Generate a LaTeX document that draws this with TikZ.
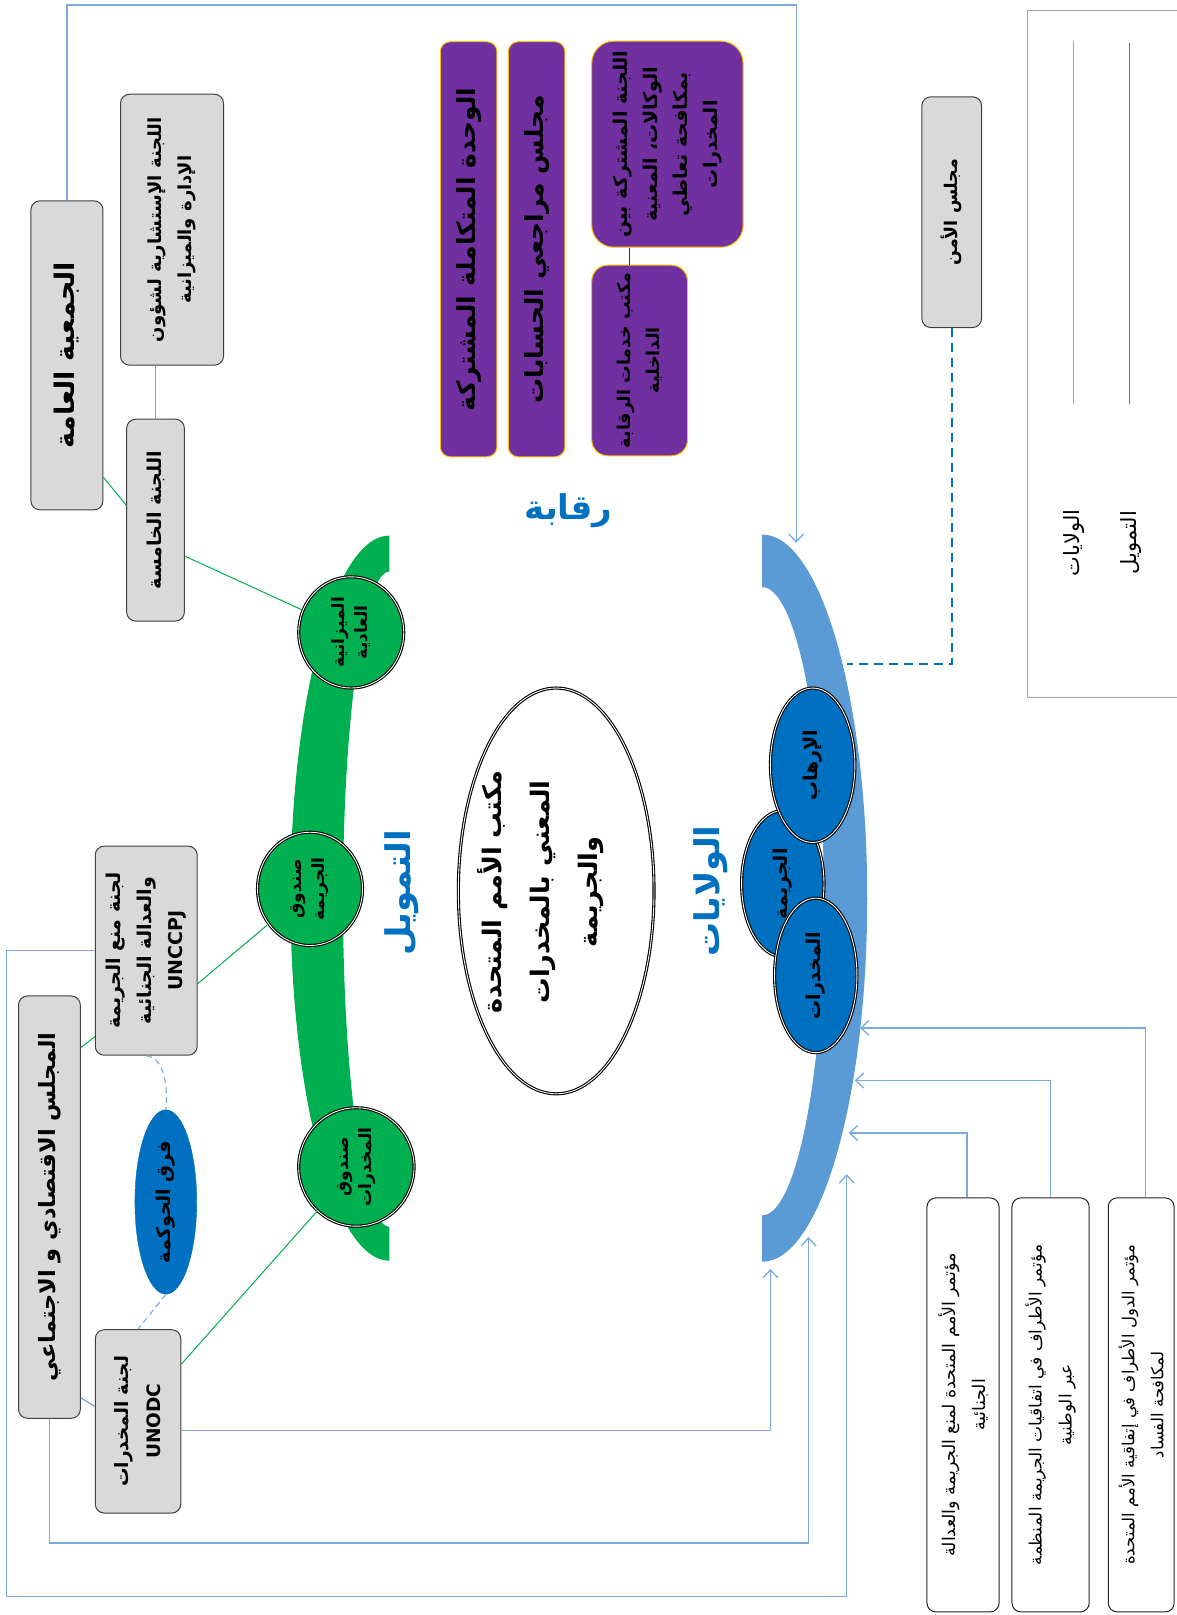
\documentclass[tikz,border=0pt]{standalone}
\usepackage{fontspec}
\usetikzlibrary{shapes.geometric,arrows.meta}
\newfontfamily\arabicfont[Script=Arabic]{DejaVu Sans}
\TeXXeTstate=1
\newcommand\arb[1]{\beginR #1\endR}
\newcommand\setfs[2]{\fontsize{#1}{#2}\selectfont}
\definecolor{lineblue}{RGB}{120,170,222}
\definecolor{arcblue}{RGB}{91,155,213}
\definecolor{cblue}{RGB}{0,112,192}
\definecolor{ggreen}{RGB}{0,176,80}
\definecolor{purp}{RGB}{112,48,160}
\definecolor{ambr}{RGB}{255,192,0}
\definecolor{boxgray}{RGB}{217,217,217}
\definecolor{legborder}{RGB}{165,165,165}
\def\u{1.0298pt}
\begin{document}
\begin{tikzpicture}[x=1.0298pt,y=-1.0298pt,
 box/.style={rotate=90, draw=black!75, line width=1pt, rounded corners=9pt, inner sep=0pt, align=center, font=\arabicfont\bfseries\setfs{18}{30}},
 gbox/.style={box, fill=boxgray},
 wbox/.style={box, fill=white, draw=black!85, font=\arabicfont\setfs{17}{30}},
 pbox/.style={rotate=90, draw=ambr, line width=1pt, fill=purp, rounded corners=10pt, inner sep=0pt, align=center, font=\arabicfont\bfseries\setfs{25}{30}},
 gcirc/.style={ellipse, rotate=90, draw=black, double=white, double distance=0.9pt, line width=1.1pt, fill=ggreen, inner sep=0pt, align=center, font=\arabicfont\bfseries\setfs{17}{23}},
 bcirc/.style={gcirc, fill=cblue, font=\arabicfont\bfseries\setfs{19}{22}},
 conn/.style={draw=lineblue, line width=1.3pt},
 arr/.style={conn, -{Straight Barb[length=8pt,width=15pt]}},
 gline/.style={draw=ggreen, line width=1pt},
 lbl/.style={rotate=90, text=cblue, font=\arabicfont\bfseries\setfs{34}{38}}
]
\useasboundingbox (0,0) rectangle (1142,1568);
\fill[white] (0,0) rectangle (1142,1568);

% crescents
\begin{scope}
\clip (740,0) rectangle (1000,1568);
\fill[arcblue, even odd rule] (740,872) ellipse [x radius=102, y radius=353] (740,875) ellipse [x radius=60, y radius=305];
\end{scope}
\begin{scope}
\clip (0,0) rectangle (378,1568);
\fill[ggreen, even odd rule] (378,872) ellipse [x radius=96, y radius=352] (378,873) ellipse [x radius=45, y radius=318];
\end{scope}

% legend
\draw[legborder, line width=1pt] (1150,10) -- (998,10) -- (998,677) -- (1150,677);
\draw[conn, line width=1pt] (1042,40) -- (1042,392);
\draw[gline] (1097,42) -- (1097,392);
\node[rotate=90, font=\arabicfont\setfs{21}{24}] (legW) at (1043,527) {\arb{الولايات}};
\node[rotate=90, font=\arabicfont\setfs{21}{24}] (legT) at (1098,527) {\arb{التمويل}};

% gray boxes
\node[gbox, minimum width=300*\u, minimum height=70*\u, font=\arabicfont\bfseries\setfs{27}{30}] (ga) at (65,345) {\arb{الجمعية العامة}};
\node[gbox, minimum width=263*\u, minimum height=100*\u] (acabq) at (167,223) {\arb{اللجنة الإستشارية لشؤون}\\\arb{الإدارة والميزانية}};
\node[gbox, minimum width=196*\u, minimum height=56*\u, font=\arabicfont\bfseries\setfs{19}{30}] (fifth) at (151,505) {\arb{اللجنة الخامسة}};
\node[gbox, minimum width=203*\u, minimum height=99*\u, font=\arabicfont\bfseries\setfs{19}{31}] (unccpj) at (142,923) {\arb{لجنة منع الجريمة}\\\arb{والعدالة الجنائية}\\UNCCPJ};
\node[gbox, minimum width=410*\u, minimum height=60*\u, font=\arabicfont\bfseries\setfs{22.5}{30}] (ecosoc) at (48,1172) {\arb{المجلس الاقتصادي و الاجتماعي}};
\node[gbox, minimum width=178*\u, minimum height=83*\u, font=\arabicfont\bfseries\setfs{18.5}{32}] (unodc) at (134,1380) {\arb{لجنة المخدرات}\\UNODC};
\node[ellipse, rotate=90, fill=cblue, draw=cblue, inner sep=0pt, minimum width=179*\u, minimum height=60*\u, font=\arabicfont\bfseries\setfs{19}{22}] (gov) at (161,1167) {\arb{فرق الحوكمة}};
\node[gbox, minimum width=224*\u, minimum height=58*\u, font=\arabicfont\bfseries\setfs{17.5}{30}] (sc) at (924,206) {\arb{مجلس الأمن}};

% conference boxes
\node[wbox, minimum width=402*\u, minimum height=70*\u, font=\arabicfont\setfs{17.5}{30}] (conf1) at (935,1364) {\arb{مؤتمر الأمم المتحدة لمنع الجريمة والعدالة}\\\arb{الجنائية}};
\node[wbox, minimum width=402*\u, minimum height=75*\u, font=\arabicfont\setfs{17}{30}] (conf2) at (1020,1364) {\arb{مؤتمر الأطراف في اتفاقيات الجريمة المنظمة}\\\arb{عبر الوطنية}};
\node[wbox, minimum width=402*\u, minimum height=64*\u, font=\arabicfont\setfs{16.5}{29}] (conf3) at (1108,1364) {\arb{مؤتمر الدول الأطراف في إتفاقية الأمم المتحدة}\\\arb{لمكافحة الفساد}};

% purple boxes
\node[pbox, minimum width=403*\u, minimum height=55*\u] (p1) at (455,242) {\arb{الوحدة المتكاملة المشتركة}};
\node[pbox, minimum width=403*\u, minimum height=55*\u] (p2) at (521,242) {\arb{مجلس مراجعي الحسابات}};
\node[pbox, minimum width=200*\u, minimum height=147*\u, rounded corners=22pt, font=\arabicfont\bfseries\setfs{19}{30}] (p3) at (648,140) {\arb{اللجنة المشتركة بين}\\\arb{الوكالات، المعنية}\\\arb{بمكافحة تعاطي}\\\arb{المخدرات}};
\node[pbox, minimum width=185*\u, minimum height=93*\u, rounded corners=16pt, font=\arabicfont\bfseries\setfs{17.5}{29}] (p4) at (621,350) {\arb{مكتب خدمات الرقابة}\\\arb{الداخلية}};

% green circles
\node[gcirc, minimum width=108*\u, minimum height=102*\u] (fb) at (341,614) {\arb{الميزانية}\\\arb{العادية}};
\node[gcirc, minimum width=110*\u, minimum height=102*\u] (cf) at (301,863) {\arb{صندوق}\\\arb{الجريمة}};
\node[gcirc, minimum width=115*\u, minimum height=112*\u] (df) at (346,1133) {\arb{صندوق}\\\arb{المخدرات}};

% blue circles
\node[bcirc, minimum width=142*\u, minimum height=80*\u] (bcrime) at (760,858) {\arb{الجريمة}};
\node[bcirc, minimum width=150*\u, minimum height=82*\u] (bterr) at (789,743) {\arb{الإرهاب}};
\node[bcirc, minimum width=150*\u, minimum height=80*\u] (bdrug) at (792,947) {\arb{المخدرات}};

% centre
\node[ellipse, rotate=90, draw=black, double=white, double distance=0.9pt, line width=1.1pt, fill=white, inner sep=0pt, minimum width=394*\u, minimum height=190*\u] (unodcC) at (540,865) {};
\node[rotate=90, align=center, font=\arabicfont\bfseries\setfs{25.5}{48}] (unodcT) at (525,866) {\arb{مكتب الأمم المتحدة}\\\arb{المعني بالمخدرات}\\\arb{والجريمة}};

% labels
\node[lbl] (tamweel) at (390,867) {\arb{التمويل}};
\node[lbl] (wilayat) at (690,865) {\arb{الولايات}};
\node[text=cblue, font=\arabicfont\bfseries\setfs{34}{38}] (riqaba) at (552,496) {\arb{رقابة}};

% arrow targets on the blue arc
\coordinate (tipTop) at (773,527);
\coordinate (tipA) at (822,1140);
\coordinate (tipB) at (785,1201);
\coordinate (tipC) at (748,1232);
\coordinate (tipD) at (824,1100);
\coordinate (tipE) at (830,1049);
\coordinate (tipF) at (835,998);
\coordinate (scEnd) at (822,645);

% blue connectors
\draw[arr] (ga.east) -- (ga.east |- 0,5) -| (tipTop);
\draw[conn] (fifth.east) -- (fifth.east |- acabq.west);
\draw[arr] (unccpj.north) -- (unccpj.north -| 6,0) -- (6,1550) -| (tipA);
\draw[arr] (ecosoc.west) -- (ecosoc.west |- 0,1498) -| (tipB);
\draw[arr] ([yshift=-9pt]unodc.south) -| (tipC);
\draw[arr] ([xshift=4pt]conf1.east) |- (tipD);
\draw[arr] (conf2.east) |- (tipE);
\draw[arr] ([xshift=4pt]conf3.east) |- (tipF);
\draw[conn] ([yshift=21pt]ecosoc.south west) -- ([yshift=15pt]unodc.north);
\draw[cblue, line width=2pt, dash pattern=on 9pt off 6pt] (sc.west) |- (scEnd);
\draw[conn, line width=1.1pt, dash pattern=on 6pt off 4pt] (unccpj.west) .. controls +(18,2) and +(2,-22) .. (gov.east);
\draw[conn, line width=1.1pt, dash pattern=on 6pt off 4pt] (gov.west) -- (unodc.east);

% green connectors
\draw[gline] ([yshift=33pt]ga.south west) -- ([yshift=15pt]fifth.north);
\draw[gline] ([yshift=-36pt]fifth.south) -- (fb);
\draw[gline] ([yshift=-33pt]unccpj.south) -- (cf);
\draw[gline] ([yshift=-52pt]ecosoc.south east) -- ([yshift=19pt]unccpj.north west);
\draw[gline] ([yshift=-35pt]unodc.south east) -- (df);

% purple link
\draw[black!80, line width=1pt] ([xshift=-10pt]p4.east) -- ([xshift=-10pt]p4.east |- p3.west);
\end{tikzpicture}
\end{document}
